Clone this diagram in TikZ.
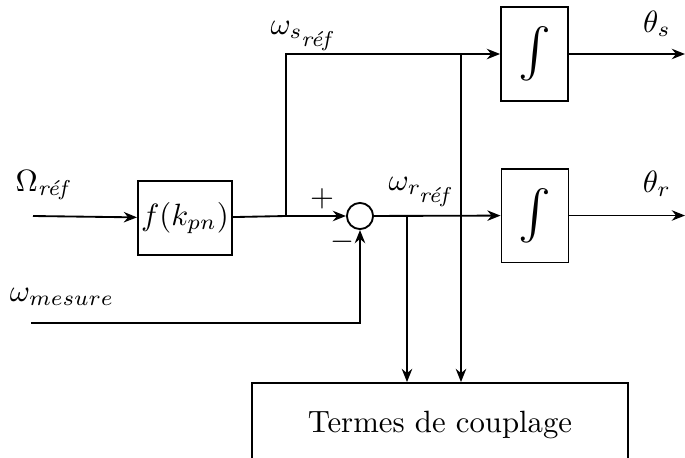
\documentclass[tikz,border=0pt]{standalone}
\usepackage{amsmath,amssymb}
\usetikzlibrary{arrows.meta,positioning,calc}
\newcommand{\refx}{\textit{réf}}

\begin{document}
\begin{tikzpicture}[x=0.325pt,y=-0.325pt,>={Stealth[length=4.3pt,width=3.4pt]},
      bloc/.style={draw,semithick,inner sep=0pt,minimum width=30.6pt,minimum height=24pt},
      integ/.style={bloc,minimum width=21.8pt,minimum height=30.5pt},
      somme/.style={draw,semithick,circle,inner sep=0pt,minimum size=8.5pt},
      lbl/.style={inner sep=0pt}]
    \useasboundingbox (0,0) rectangle (685,457);
    % blocs
    \node[bloc] (fk) at (185,218) {$f(k_{pn})$};
    \node[somme] (sum) at (360,216) {};
    \node[integ] (ints) at (534.5,54) {\scalebox{1.6}{$\int$}};
    \node[integ] (intr) at (535,215.5) {\scalebox{1.6}{$\int$}};
    \node[bloc,minimum width=122pt,minimum height=27.3pt] (coupl) at (440,425) {Termes de couplage};
    % points de depart et de branchement
    \coordinate (omref) at (33,216);
    \coordinate (mes) at (31,323);
    \coordinate (brs) at (286,216);
    \coordinate (drs) at (461,54);
    \coordinate (drr) at (407,216);
    \coordinate (outs) at (685,54);
    \coordinate (outr) at (685,215.5);
    % textes
    \node[lbl] (tOm) at (42,185) {$\Omega_{\refx}$};
    \node[lbl] (tms) at (62,297) {$\omega_{mesure}$};
    \node[lbl] (tws) at (302,36) {$\omega_{s_{\scriptstyle\refx}}$};
    \node[lbl] (twr) at (420,192) {$\omega_{r_{\scriptstyle\refx}}$};
    \node[lbl] (tts) at (657,24) {$\theta_s$};
    \node[lbl] (ttr) at (657,184) {$\theta_r$};
    \node[lbl] (plus) at (322,199) {$+$};
    \node[lbl] (moins) at (342,242) {$-$};
    % liaisons
    \begin{scope}[semithick]
      \draw[->] (omref) -- (fk);
      \draw (fk) -- (brs);
      \draw[->] (brs) -- (sum);
      \draw[->] (brs) |- (ints);
      \draw[->] (mes) -| (sum);
      \draw[->] (sum) -- (intr);
      \draw[->] (ints) -- (outs);
      \draw[->] (intr) -- (outr);
      \draw[->] (drr) -- (drr |- coupl.north);
      \draw[->] (drs) -- (drs |- coupl.north);
    \end{scope}
  \end{tikzpicture}
\end{document}
